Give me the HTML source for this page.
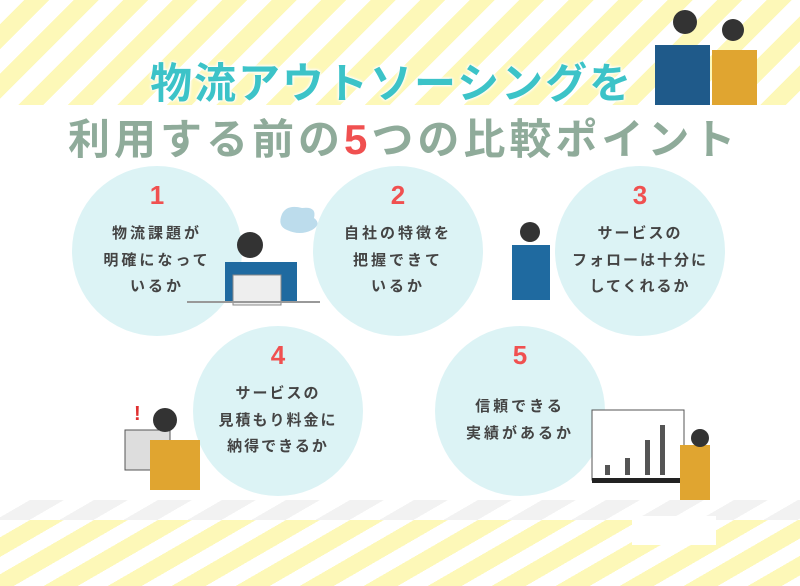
<!DOCTYPE html>
<html><head><meta charset="utf-8"><style>
*{margin:0;padding:0}
html,body{width:800px;height:586px;overflow:hidden}
body{position:relative;background:#fff;font-family:"Liberation Sans","Noto Sans CJK JP",sans-serif}
.top{position:absolute;left:0;top:0;width:800px;height:105px;background:repeating-linear-gradient(135deg,#fff 0 17px,#fdf8b8 17px 35px)}
.bot{position:absolute;left:0;top:520px;width:800px;height:66px;background:repeating-linear-gradient(150deg,#fff 0 15px,#fdf8b8 15px 32px)}
.botg{position:absolute;left:0;top:500px;width:800px;height:20px;background:repeating-linear-gradient(150deg,#fff 0 15px,#f2f2f2 15px 32px)}
.c{position:absolute;width:170px;height:170px;border-radius:50%;background:#dcf3f5;text-align:center;color:#444;font-weight:bold}
.c .n{font-size:26px;color:#f05050;margin-top:10px;height:38px;line-height:38px}
.c .t{font-size:15px;letter-spacing:3px;line-height:26.5px;margin-top:7px}
.title{position:absolute;white-space:nowrap;font-weight:bold;text-shadow:0 0 3px #fff,0 0 3px #fff,0 0 3px #fff}
</style></head><body>
<div class="top"></div>
<div class="botg"></div><div class="bot"></div>
<div style="position:absolute;left:632px;top:516px;width:84px;height:29px;background:#fff"></div>
<div class="title" style="left:150px;top:50px;font-size:42px;color:#3cc3c8;letter-spacing:2px">物流アウトソーシングを</div>
<div class="title" style="left:68px;top:106px;font-size:42px;color:#8fab9a;letter-spacing:4px">利用する前の<span style="color:#f05050">5</span>つの比較ポイント</div>
<div class="c" style="left:72px;top:166px"><div class="n">1</div><div class="t">物流課題が<br>明確になって<br>いるか</div></div>
<div class="c" style="left:313px;top:166px"><div class="n">2</div><div class="t">自社の特徴を<br>把握できて<br>いるか</div></div>
<div class="c" style="left:555px;top:166px"><div class="n">3</div><div class="t" style="letter-spacing:2px">サービスの<br>フォローは十分に<br>してくれるか</div></div>
<div class="c" style="left:193px;top:326px"><div class="n">4</div><div class="t" style="letter-spacing:2px">サービスの<br>見積もり料金に<br>納得できるか</div></div>
<div class="c" style="left:435px;top:326px"><div class="n">5</div><div class="t" style="margin-top:20px">信頼できる<br>実績があるか</div></div>
<svg style="position:absolute;left:0;top:0" width="800" height="586">
<rect x="655" y="45" width="55" height="60" fill="#1f5a8a"/><circle cx="685" cy="22" r="12" fill="#333"/>
<rect x="712" y="50" width="45" height="55" fill="#e0a530"/><circle cx="733" cy="30" r="11" fill="#333"/>
<path d="M282 214 q5-10 20-6 q15-2 12 10 q8 6-2 12 q-12 6-25 0 q-10-4-5-16z" fill="#bcdcec"/>
<rect x="225" y="262" width="72" height="40" fill="#1f6aa0"/><circle cx="250" cy="245" r="13" fill="#333"/>
<rect x="233" y="275" width="48" height="30" fill="#eee" stroke="#888"/>
<line x1="187" y1="302" x2="320" y2="302" stroke="#999" stroke-width="2"/>
<rect x="512" y="245" width="38" height="55" fill="#1f6aa0"/><circle cx="530" cy="232" r="10" fill="#333"/>
<rect x="125" y="430" width="45" height="40" fill="#ddd" stroke="#555"/>
<rect x="150" y="440" width="50" height="50" fill="#e0a530"/><circle cx="165" cy="420" r="12" fill="#333"/>
<text x="134" y="420" fill="#e03030" font-size="20" font-weight="bold">!</text>
<rect x="592" y="410" width="92" height="70" fill="#fff" stroke="#555"/>
<rect x="592" y="478" width="95" height="5" fill="#222"/>
<rect x="605" y="465" width="5" height="10" fill="#555"/><rect x="625" y="458" width="5" height="17" fill="#555"/><rect x="645" y="440" width="5" height="35" fill="#555"/><rect x="660" y="425" width="5" height="50" fill="#555"/>
<rect x="680" y="445" width="30" height="55" fill="#e0a530"/><circle cx="700" cy="438" r="9" fill="#333"/>
</svg>
</body></html>
